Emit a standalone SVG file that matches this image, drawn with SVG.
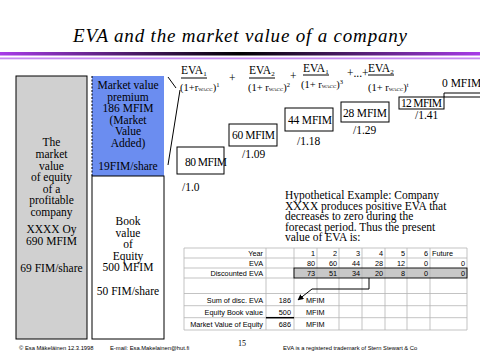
<svg xmlns="http://www.w3.org/2000/svg" width="480" height="360" viewBox="0 0 480 360">
<defs>
<linearGradient id="bar" x1="0" y1="0" x2="1" y2="0">
<stop offset="0" stop-color="#a83ce8"/><stop offset="0.5" stop-color="#000"/><stop offset="1" stop-color="#a83ce8"/>
</linearGradient>
<marker id="arr" viewBox="0 0 10 10" refX="9" refY="5" markerWidth="6" markerHeight="6" orient="auto-start-reverse" markerUnits="userSpaceOnUse">
<path d="M0,0 L10,5 L0,10 z" fill="#000"/>
</marker>
<style>
.s{font-family:"Liberation Serif",serif;font-size:11.5px;fill:#000}
.d{font-family:"Liberation Serif",serif;font-size:10.5px;fill:#000}
.c{text-anchor:middle}
.t{font-family:"Liberation Sans",Arial,sans-serif;font-size:7.3px;fill:#000}
.r{text-anchor:end}
.box{fill:#fff;stroke:#000;stroke-width:1}
.ln{stroke:#000;stroke-width:1;fill:none}
.g{stroke:#b4b4b4;stroke-width:0.8;fill:none}
.f{font-family:"Liberation Sans",Arial,sans-serif;font-size:5.8px;fill:#000}
</style>
</defs>
<rect width="480" height="360" fill="#fff"/>
<text x="240" y="42" font-family="Liberation Serif,serif" font-style="italic" font-size="19" text-anchor="middle" textLength="334" lengthAdjust="spacing">EVA and the market value of a company</text>
<rect x="0" y="52" width="480" height="3.5" fill="url(#bar)"/>
<rect x="0" y="57.5" width="480" height="1.8" fill="#c78af2"/>

<g id="market-value">
<rect x="16" y="76" width="71" height="263" fill="#d0d0d0" stroke="#000"/>
<text class="s c" x="51.5"><tspan x="51.5" y="146">The</tspan><tspan x="51.5" y="158">market</tspan><tspan x="51.5" y="169.5">value</tspan><tspan x="51.5" y="181">of equity</tspan><tspan x="51.5" y="192.5">of a</tspan><tspan x="51.5" y="204">profitable</tspan><tspan x="51.5" y="215.5">company</tspan><tspan x="51.5" y="233">XXXX Oy</tspan><tspan x="51.5" y="245">690 MFIM</tspan><tspan x="51.5" y="272">69 FIM/share</tspan></text>
</g>

<g id="premium">
<rect x="92" y="76" width="72" height="100" fill="#6b8df0"/>
<line x1="92" y1="76" x2="92" y2="176" stroke="#000" stroke-dasharray="2,1.5"/>
<text class="s c"><tspan x="128" y="89">Market value</tspan><tspan x="128" y="100.5">premium</tspan><tspan x="128" y="112">186 MFIM</tspan><tspan x="128" y="123.5">(Market</tspan><tspan x="128" y="135">Value</tspan><tspan x="128" y="146.5">Added)</tspan><tspan x="128" y="170">19FIM/share</tspan></text>
</g>

<g id="book-value">
<rect class="box" x="92" y="176" width="72" height="163"/>
<text class="s c"><tspan x="128" y="225">Book</tspan><tspan x="128" y="236.5">value</tspan><tspan x="128" y="248">of</tspan><tspan x="128" y="259.5">Equity</tspan><tspan x="128" y="271">500 MFIM</tspan><tspan x="128" y="295">50 FIM/share</tspan></text>
</g>

<g id="formula">
<text class="s" x="181" y="74">EVA<tspan font-size="7" dy="2">1</tspan></text>
<line class="ln" x1="181" y1="78" x2="207" y2="78"/>
<text class="d" x="180" y="91">(1+r<tspan font-size="5">WACC</tspan>)<tspan font-size="6.5" dy="-4">1</tspan></text>
<text class="s" x="229" y="82">+</text>
<text class="s" x="249" y="74">EVA<tspan font-size="7" dy="2">2</tspan></text>
<line class="ln" x1="249" y1="78" x2="275" y2="78"/>
<text class="d" x="248" y="91">(1+ r<tspan font-size="5">WACC</tspan>)<tspan font-size="6.5" dy="-4">2</tspan></text>
<text class="s" x="290" y="80">+</text>
<text class="s" x="303" y="71.5">EVA<tspan font-size="7" dy="2">1</tspan></text>
<line class="ln" x1="303" y1="75" x2="329" y2="75"/>
<text class="d" x="301" y="88">(1+ r<tspan font-size="5">WACC</tspan>)<tspan font-size="6.5" dy="-4">3</tspan></text>
<text class="s" x="347" y="77">+...+</text>
<text class="s" x="368" y="71.5">EVA<tspan font-size="7" dy="2">2</tspan></text>
<line class="ln" x1="368" y1="75" x2="394" y2="75"/>
<text class="d" x="368" y="91">(1+ r<tspan font-size="5">WACC</tspan>)<tspan font-size="6.5" dy="-4">t</tspan></text>
<line class="ln" x1="168" y1="77" x2="176" y2="88"/>
<line class="ln" x1="180" y1="90" x2="168" y2="165"/>
</g>

<g id="y1"><rect class="box" x="177" y="147" width="47" height="27"/><text class="s" x="185" y="166" textLength="42">80 MFIM</text><text class="s" x="182" y="191">/1.0</text></g>
<g id="y2"><rect class="box" x="229" y="124" width="48" height="22"/><text class="s" x="232" y="139" textLength="43">60 MFIM</text><text class="s" x="242" y="158">/1.09</text></g>
<g id="y3"><rect class="box" x="285" y="108" width="48" height="23"/><text class="s" x="288" y="123.5" textLength="44">44 MFIM</text><text class="s" x="297" y="145">/1.18</text></g>
<g id="y4"><rect class="box" x="341" y="102" width="48" height="20"/><text class="s" x="343" y="116.5" textLength="44">28 MFIM</text><text class="s" x="353" y="134">/1.29</text></g>
<g id="y5"><rect class="box" x="399" y="97" width="45" height="12"/><text class="s" x="401" y="107" textLength="41">12 MFIM</text><text class="s" x="415" y="118.5">/1.41</text></g>
<g id="y6"><path class="ln" d="M482,93 H444 V97 H482"/><text class="s" x="442" y="87" font-size="9.8">0 MFIM</text></g>

<g id="example">
<text class="s"><tspan x="285" y="199">Hypothetical Example: Company</tspan><tspan x="285" y="209.5">XXXX produces positive EVA that</tspan><tspan x="285" y="220">decreases to zero during the</tspan><tspan x="285" y="230.5">forecast period. Thus the present</tspan><tspan x="285" y="241">value of EVA is:</tspan></text>
</g>

<g id="table">
<rect x="294" y="268" width="173" height="10" fill="#c8c8c8"/>
<path class="g" d="M184,248 H467 M184,258 H467 M184,268 H294 M184,278 H294 M184,293.5 H467 M184,305.7 H467 M184,317.7 H467 M184,330 H467 M184,248 V330 M266,248 V330 M294,248 V330 M317,248 V293.5 M339,248 V330 M362,248 V330 M385,248 V330 M407,248 V330 M430,248 V330 M467,248 V330"/>
<rect x="294" y="268" width="173" height="10" fill="none" stroke="#000" stroke-width="0.9"/>
<line x1="266" y1="317.7" x2="294" y2="317.7" stroke="#000" stroke-width="1.5"/>
<g class="t r">
<text x="263" y="256">Year</text><text x="263" y="266">EVA</text><text x="263" y="276">Discounted EVA</text>
<text x="263" y="302.5">Sum of disc. EVA</text><text x="263" y="314.5">Equity Book value</text><text x="263" y="326.5">Market Value of Equity</text>
<text x="315" y="256">1</text><text x="337" y="256">2</text><text x="360" y="256">3</text><text x="383" y="256">4</text><text x="405" y="256">5</text><text x="428" y="256">6</text>
<text x="315" y="266">80</text><text x="337" y="266">60</text><text x="360" y="266">44</text><text x="383" y="266">28</text><text x="405" y="266">12</text><text x="428" y="266">0</text><text x="465" y="266">0</text>
<text x="315" y="276">73</text><text x="337" y="276">51</text><text x="360" y="276">34</text><text x="383" y="276">20</text><text x="405" y="276">8</text><text x="428" y="276">0</text><text x="465" y="276">0</text>
<text x="291" y="302.5">186</text><text x="291" y="314.5">500</text><text x="291" y="326.5">686</text>
</g>
<g class="t">
<text x="432" y="256">Future</text>
<text x="306" y="302.5">MFIM</text><text x="306" y="314.5">MFIM</text><text x="306" y="326.5">MFIM</text>
</g>
</g>

<g id="connectors">
<path class="ln" d="M369,278 V289 H312 L298,300" marker-end="url(#arr)"/>
</g>

<g id="footer">
<text class="f" x="19" y="350">© Esa Mäkeläinen 12.3.1998</text>
<text class="f" x="110" y="350">E-mail: Esa.Makelainen@hut.fi</text>
<text x="238" y="346" font-family="Liberation Serif,serif" font-size="8">15</text>
<text class="f" x="283" y="350">EVA is a registered trademark of Stern Stewart &amp; Co</text>
</g>
</svg>
